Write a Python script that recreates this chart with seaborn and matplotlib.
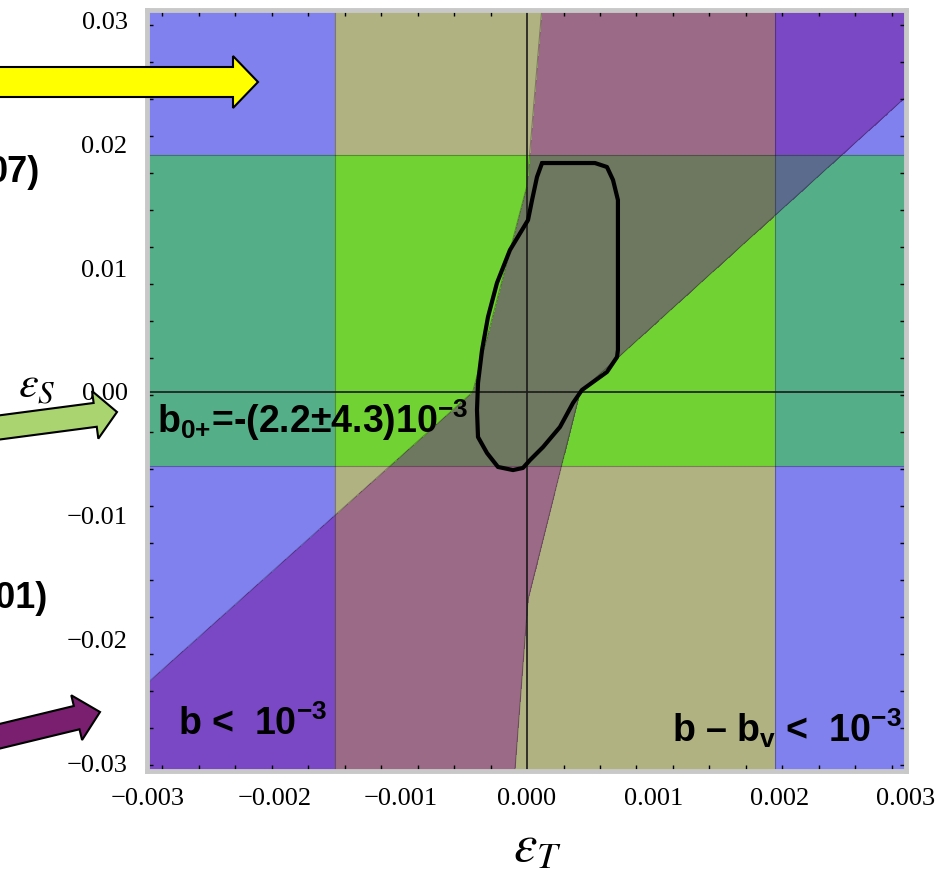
import numpy as np
import matplotlib
matplotlib.use('Agg')
import matplotlib.pyplot as plt
import seaborn as sns
from matplotlib.path import Path
from matplotlib.colors import ListedColormap
from matplotlib.patches import FancyArrow
from matplotlib.transforms import IdentityTransform

# all values in units of 1e-3
band_T = [-1.52, 1.96]      # vertical band (b - b_v)
band_S = [-5.98, 19.16]     # horizontal band (b_0+)

# red region: between a left and a right boundary curve
red_left_T = [0.12, 0.0, -0.43, -3.2]
red_left_S = [31.3, 16.7, 0.0, -25.3]
red_right_T = [-0.10, 0.008, 0.42, 3.2]
red_right_S = [-31.2, -16.8, 0.0, 25.7]

# allowed region (black contour)
contour_T = [0.119, 0.538, 0.633, 0.681, 0.720, 0.720, 0.720, 0.720, 0.713, 0.633, 0.523,
             0.435, 0.364, 0.261, 0.127, 0.024, -0.032, -0.111, -0.230, -0.317, -0.388,
             -0.396, -0.388, -0.356, -0.309, -0.238, -0.135, 0.008, 0.040, 0.079, 0.119]
contour_S = [18.51, 18.51, 18.19, 17.14, 15.52, 11.48, 7.44, 3.40, 2.83, 1.62, 0.81,
             0.16, -0.89, -2.83, -4.45, -5.50, -6.14, -6.31, -6.06, -4.93, -3.64,
             -1.46, 0.73, 3.40, 6.06, 8.81, 11.48, 13.90, 15.52, 17.38, 18.51]

xticks = [-0.003, -0.002, -0.001, 0.0, 0.001, 0.002, 0.003]
xlabels = ['\u22120.003', '\u22120.002', '\u22120.001', '0.000', '0.001', '0.002', '0.003']
yticks = [-0.03, -0.02, -0.01, 0.0, 0.01, 0.02, 0.03]
ylabels = ['\u22120.03', '\u22120.02', '\u22120.01', '0.00', '0.01', '0.02', '0.03']

# region colours: index = yellow + 2*green + 4*red
region_colors = ['#8080ef', '#b0b282', '#54af89', '#71d233',
                 '#7a48c5', '#9b6a87', '#5a6b8d', '#6e775f']

sns.set_style('white')
plt.rcParams['font.family'] = ['Liberation Sans', 'DejaVu Sans']
plt.rcParams['text.color'] = 'black'
plt.rcParams['xtick.color'] = 'black'
plt.rcParams['ytick.color'] = 'black'
plt.rcParams['mathtext.fontset'] = 'custom'
plt.rcParams['mathtext.rm'] = 'Liberation Sans'
plt.rcParams['mathtext.bf'] = 'Liberation Sans:bold'
plt.rcParams['mathtext.it'] = 'Liberation Sans:italic'

W, H = 938, 881
fig = plt.figure(figsize=(W / 100, H / 100), dpi=100)
ax = fig.add_axes([147 / W, 1 - 771 / H, 759 / W, 761 / H])

xmin, xmax = -0.003009, 0.003001
ymin, ymax = -0.030639, 0.030881

# region map
xs = np.linspace(xmin, xmax, 1500)
ys = np.linspace(ymin, ymax, 1500)
X, Y = np.meshgrid(xs, ys)
in_y = (X >= band_T[0] * 1e-3) & (X <= band_T[1] * 1e-3)
in_g = (Y >= band_S[0] * 1e-3) & (Y <= band_S[1] * 1e-3)
poly = (list(zip(red_left_T, red_left_S)) + [(-3.2, -32.0)]
        + list(zip(red_right_T, red_right_S)) + [(3.2, 32.0)])
pts = np.column_stack([X.ravel() * 1e3, Y.ravel() * 1e3])
in_r = Path(poly).contains_points(pts).reshape(X.shape)
code = in_y.astype(int) + 2 * in_g.astype(int) + 4 * in_r.astype(int)

ax.imshow(code, extent=[xmin, xmax, ymin, ymax], origin='lower', aspect='auto',
          cmap=ListedColormap(region_colors), vmin=-0.5, vmax=7.5, interpolation='nearest')

# faint region borders
for v in band_T:
    ax.axvline(v * 1e-3, color='k', alpha=0.3, lw=0.8)
for v in band_S:
    ax.axhline(v * 1e-3, color='k', alpha=0.3, lw=0.8)
ax.plot(np.array(red_left_T) * 1e-3, np.array(red_left_S) * 1e-3, color='k', alpha=0.3, lw=0.8)
ax.plot(np.array(red_right_T) * 1e-3, np.array(red_right_S) * 1e-3, color='k', alpha=0.3, lw=0.8)

ax.axhline(0, color='#1a1a1a', lw=1.2)
ax.axvline(0, color='#1a1a1a', lw=1.2)

sns.lineplot(x=np.array(contour_T) * 1e-3, y=np.array(contour_S) * 1e-3, sort=False,
             estimator=None, color='black', lw=3, ax=ax, solid_joinstyle='round')

ax.set_xlim(xmin, xmax)
ax.set_ylim(ymin, ymax)
ax.set_xticks(xticks)
ax.set_xticklabels(xlabels, fontfamily='Liberation Serif', fontsize=19)
ax.set_yticks(yticks)
ax.set_yticklabels(ylabels, fontfamily='Liberation Serif', fontsize=19)
ax.set_xticks(np.arange(-0.00289, 0.003, 0.000289), minor=True)
ax.set_yticks(np.arange(0.02967, -0.0307, -0.002991), minor=True)
ax.tick_params(which='major', length=0)
ax.tick_params(axis='x', which='major', pad=12)
ax.tick_params(axis='y', which='major', pad=14)
ax.tick_params(which='minor', direction='in', length=4, width=1, color='black',
               top=True, right=True, bottom=True, left=True)
for s in ax.spines.values():
    s.set_color('#c8c8c8')
    s.set_linewidth(3.5)

# labels inside plot
ax.text(-0.00293, -0.0033, 'b$_{\\mathbf{0{+}}}$=-(2.2\u00b14.3)10$^{\\mathbf{-3}}$',
        fontsize=27, fontweight='bold', va='baseline', ha='left')
ax.text(-0.002763, -0.02773, 'b <  10$^{\\mathbf{-3}}$',
        fontsize=27, fontweight='bold', va='baseline', ha='left')
ax.text(0.00115, -0.02829, 'b \u2013 b$_{\\mathbf{v}}$ <  10$^{\\mathbf{-3}}$',
        fontsize=27, fontweight='bold', va='baseline', ha='left')


def px(x, y):
    return x / W, 1 - y / H


fig.text(*px(40, 172), '07)', fontsize=26, fontweight='bold', ha='right', va='center')
fig.text(*px(48, 598), '001)', fontsize=26, fontweight='bold', ha='right', va='center')
fig.text(*px(37, 386), r'$\varepsilon_S$', fontsize=32, ha='center', va='center',
         math_fontfamily='stix')
fig.text(*px(537, 848), r'$\varepsilon_T$', fontsize=38, ha='center', va='center',
         math_fontfamily='stix')

# arrows in pixel coordinates
tr = IdentityTransform()
fig.add_artist(FancyArrow(-10, H - 82, 268, 0, width=30, head_width=52, head_length=25,
                          length_includes_head=True, fc='#ffff00', ec='black', lw=1.5,
                          transform=tr, zorder=5))
fig.add_artist(FancyArrow(-20, H - 430, 137, 18, width=24, head_width=48, head_length=22,
                          length_includes_head=True, fc='#a9d46f', ec='black', lw=1.5,
                          transform=tr, zorder=5))
fig.add_artist(FancyArrow(-20, H - 741, 120, 29, width=24, head_width=46, head_length=24,
                          length_includes_head=True, fc='#7a1f70', ec='black', lw=1.5,
                          transform=tr, zorder=5))

fig.savefig('out.png', dpi=100)
